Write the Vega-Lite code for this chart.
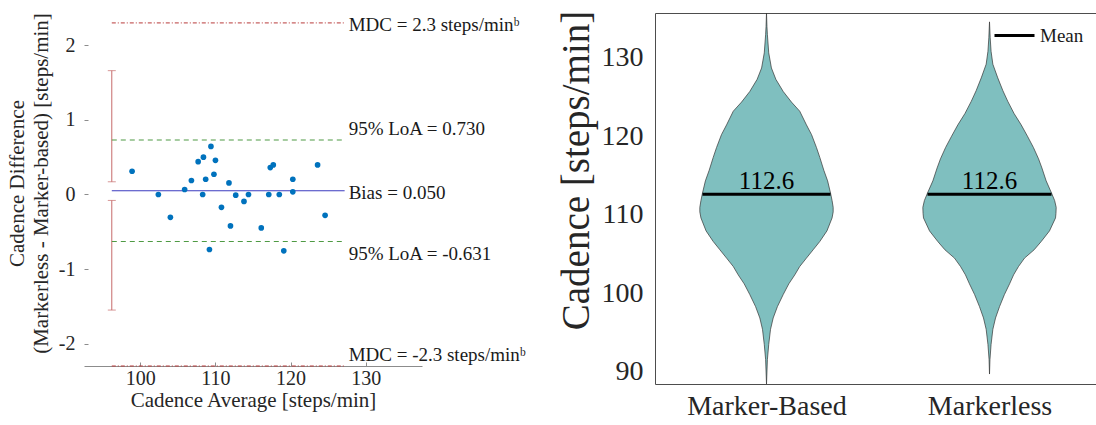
{
  "$schema": "https://vega.github.io/schema/vega-lite/v6.json",
  "padding": {"left": 6, "top": 9, "right": 0, "bottom": 0},
  "background": "white",
  "config": {
    "font": "Liberation Serif",
    "view": {"stroke": null},
    "axis": {"grid": false, "labelFont": "Liberation Serif", "titleFont": "Liberation Serif", "titleFontWeight": "normal", "labelColor": "#262626", "titleColor": "#262626"},
    "legend": {"labelFont": "Liberation Serif"},
    "text": {"font": "Liberation Serif"}
  },
  "spacing": 30,
  "resolve": {"legend": {"stroke": "independent"}},
  "datasets": {
    "points": [
      {"avg": 98.9, "diff": 0.311}, {"avg": 102.4, "diff": 0.0}, {"avg": 104.0, "diff": -0.307},
      {"avg": 105.9, "diff": 0.067}, {"avg": 106.8, "diff": 0.187}, {"avg": 107.7, "diff": 0.44},
      {"avg": 108.4, "diff": 0.5}, {"avg": 108.3, "diff": 0.0}, {"avg": 108.7, "diff": 0.204},
      {"avg": 109.4, "diff": 0.644}, {"avg": 110.0, "diff": 0.458}, {"avg": 109.8, "diff": 0.271},
      {"avg": 109.2, "diff": -0.738}, {"avg": 110.8, "diff": -0.173}, {"avg": 111.8, "diff": 0.155},
      {"avg": 112.0, "diff": -0.422}, {"avg": 112.7, "diff": -0.009}, {"avg": 113.8, "diff": -0.093},
      {"avg": 114.4, "diff": 0.0}, {"avg": 116.1, "diff": -0.449}, {"avg": 117.1, "diff": 0.0},
      {"avg": 117.3, "diff": 0.36}, {"avg": 117.7, "diff": 0.396}, {"avg": 118.5, "diff": 0.0},
      {"avg": 119.1, "diff": -0.756}, {"avg": 120.3, "diff": 0.035}, {"avg": 120.3, "diff": 0.204},
      {"avg": 123.6, "diff": 0.396}, {"avg": 124.6, "diff": -0.28}
    ],
    "hlines": [
      {"kind": "MDC", "y": 2.3, "x1": 96.2, "x2": 127.2, "label": "MDC = 2.3 steps/minᵇ"},
      {"kind": "MDC", "y": -2.3, "x1": 96.2, "x2": 127.2, "label": "MDC = -2.3 steps/minᵇ"},
      {"kind": "LoA", "y": 0.73, "x1": 96.2, "x2": 127.2, "label": "95% LoA = 0.730"},
      {"kind": "LoA", "y": -0.631, "x1": 96.2, "x2": 127.2, "label": "95% LoA = -0.631"},
      {"kind": "Bias", "y": 0.05, "x1": 96.2, "x2": 127.2, "label": "Bias = 0.050"}
    ],
    "ci": [
      {"x": 96.2, "lo": 0.17, "hi": 1.66},
      {"x": 96.2, "lo": -1.55, "hi": -0.08}
    ],
    "violin": [
      {"group": "Marker-Based", "cad": 135.69, "lo": 1.0, "hi": 1.0},
      {"group": "Marker-Based", "cad": 133.99, "lo": 0.998, "hi": 1.002},
      {"group": "Marker-Based", "cad": 132.93, "lo": 0.996, "hi": 1.004},
      {"group": "Marker-Based", "cad": 130.62, "lo": 0.99, "hi": 1.01},
      {"group": "Marker-Based", "cad": 128.69, "lo": 0.978, "hi": 1.022},
      {"group": "Marker-Based", "cad": 127.24, "lo": 0.958, "hi": 1.042},
      {"group": "Marker-Based", "cad": 125.69, "lo": 0.925, "hi": 1.075},
      {"group": "Marker-Based", "cad": 124.34, "lo": 0.888, "hi": 1.112},
      {"group": "Marker-Based", "cad": 123.18, "lo": 0.851, "hi": 1.149},
      {"group": "Marker-Based", "cad": 121.44, "lo": 0.821, "hi": 1.179},
      {"group": "Marker-Based", "cad": 120.19, "lo": 0.798, "hi": 1.202},
      {"group": "Marker-Based", "cad": 118.55, "lo": 0.776, "hi": 1.224},
      {"group": "Marker-Based", "cad": 117.29, "lo": 0.761, "hi": 1.239},
      {"group": "Marker-Based", "cad": 115.65, "lo": 0.743, "hi": 1.257},
      {"group": "Marker-Based", "cad": 114.3, "lo": 0.726, "hi": 1.274},
      {"group": "Marker-Based", "cad": 112.75, "lo": 0.713, "hi": 1.287},
      {"group": "Marker-Based", "cad": 111.79, "lo": 0.706, "hi": 1.294},
      {"group": "Marker-Based", "cad": 110.92, "lo": 0.701, "hi": 1.299},
      {"group": "Marker-Based", "cad": 110.34, "lo": 0.701, "hi": 1.299},
      {"group": "Marker-Based", "cad": 109.57, "lo": 0.706, "hi": 1.294},
      {"group": "Marker-Based", "cad": 107.92, "lo": 0.729, "hi": 1.271},
      {"group": "Marker-Based", "cad": 106.57, "lo": 0.761, "hi": 1.239},
      {"group": "Marker-Based", "cad": 105.51, "lo": 0.791, "hi": 1.209},
      {"group": "Marker-Based", "cad": 104.45, "lo": 0.821, "hi": 1.179},
      {"group": "Marker-Based", "cad": 103.38, "lo": 0.851, "hi": 1.149},
      {"group": "Marker-Based", "cad": 102.32, "lo": 0.873, "hi": 1.127},
      {"group": "Marker-Based", "cad": 101.17, "lo": 0.9, "hi": 1.1},
      {"group": "Marker-Based", "cad": 99.81, "lo": 0.925, "hi": 1.075},
      {"group": "Marker-Based", "cad": 98.27, "lo": 0.951, "hi": 1.049},
      {"group": "Marker-Based", "cad": 96.82, "lo": 0.97, "hi": 1.03},
      {"group": "Marker-Based", "cad": 95.37, "lo": 0.982, "hi": 1.018},
      {"group": "Marker-Based", "cad": 93.44, "lo": 0.99, "hi": 1.01},
      {"group": "Marker-Based", "cad": 91.51, "lo": 0.996, "hi": 1.004},
      {"group": "Marker-Based", "cad": 88.4, "lo": 1.0, "hi": 1.0},
      {"group": "Markerless", "cad": 134.57, "lo": 2.0, "hi": 2.0},
      {"group": "Markerless", "cad": 132.55, "lo": 1.997, "hi": 2.003},
      {"group": "Markerless", "cad": 130.81, "lo": 1.993, "hi": 2.007},
      {"group": "Markerless", "cad": 129.17, "lo": 1.985, "hi": 2.015},
      {"group": "Markerless", "cad": 127.43, "lo": 1.963, "hi": 2.037},
      {"group": "Markerless", "cad": 125.79, "lo": 1.94, "hi": 2.06},
      {"group": "Markerless", "cad": 124.43, "lo": 1.918, "hi": 2.082},
      {"group": "Markerless", "cad": 122.89, "lo": 1.89, "hi": 2.11},
      {"group": "Markerless", "cad": 121.44, "lo": 1.858, "hi": 2.142},
      {"group": "Markerless", "cad": 120.0, "lo": 1.83, "hi": 2.17},
      {"group": "Markerless", "cad": 118.55, "lo": 1.803, "hi": 2.197},
      {"group": "Markerless", "cad": 117.1, "lo": 1.78, "hi": 2.22},
      {"group": "Markerless", "cad": 115.94, "lo": 1.765, "hi": 2.235},
      {"group": "Markerless", "cad": 114.3, "lo": 1.746, "hi": 2.254},
      {"group": "Markerless", "cad": 112.75, "lo": 1.722, "hi": 2.278},
      {"group": "Markerless", "cad": 111.79, "lo": 1.708, "hi": 2.292},
      {"group": "Markerless", "cad": 110.92, "lo": 1.701, "hi": 2.299},
      {"group": "Markerless", "cad": 110.15, "lo": 1.702, "hi": 2.298},
      {"group": "Markerless", "cad": 109.57, "lo": 1.704, "hi": 2.296},
      {"group": "Markerless", "cad": 107.92, "lo": 1.731, "hi": 2.269},
      {"group": "Markerless", "cad": 106.57, "lo": 1.768, "hi": 2.232},
      {"group": "Markerless", "cad": 105.51, "lo": 1.8, "hi": 2.2},
      {"group": "Markerless", "cad": 104.45, "lo": 1.843, "hi": 2.157},
      {"group": "Markerless", "cad": 103.38, "lo": 1.87, "hi": 2.13},
      {"group": "Markerless", "cad": 102.32, "lo": 1.892, "hi": 2.108},
      {"group": "Markerless", "cad": 101.17, "lo": 1.91, "hi": 2.09},
      {"group": "Markerless", "cad": 99.81, "lo": 1.933, "hi": 2.067},
      {"group": "Markerless", "cad": 98.27, "lo": 1.955, "hi": 2.045},
      {"group": "Markerless", "cad": 96.82, "lo": 1.973, "hi": 2.027},
      {"group": "Markerless", "cad": 95.37, "lo": 1.985, "hi": 2.015},
      {"group": "Markerless", "cad": 93.44, "lo": 1.993, "hi": 2.007},
      {"group": "Markerless", "cad": 91.51, "lo": 1.998, "hi": 2.002},
      {"group": "Markerless", "cad": 89.67, "lo": 2.0, "hi": 2.0}
    ],
    "means": [
      {"group": "Marker-Based", "pos": 1, "mean": 112.6, "lo": 0.713, "hi": 1.287},
      {"group": "Markerless", "pos": 2, "mean": 112.6, "lo": 1.722, "hi": 2.278}
    ]
  },
  "hconcat": [
    {
      "width": 338,
      "height": 353,
      "layer": [
        {
          "data": {"name": "ci"},
          "mark": {"type": "rule", "color": "#c66b6b", "strokeWidth": 1},
          "encoding": {
            "x": {"field": "x", "type": "quantitative", "scale": {"domain": [92.5, 137.5], "nice": false, "zero": false},
              "axis": {"values": [100, 110, 120, 130], "title": "Cadence Average [steps/min]", "labelFont": "Liberation Serif", "titleFont": "Liberation Serif", "labelFontSize": 20, "titleFontSize": 21, "domainColor": "#8c8c8c", "tickColor": "#8c8c8c", "tickSize": -4, "labelPadding": 6, "titlePadding": 1}},
            "y": {"field": "lo", "type": "quantitative", "scale": {"domain": [-2.3, 2.433], "nice": false, "zero": false},
              "axis": {"values": [-2, -1, 0, 1, 2], "labelExpr": "datum.value + ''", "title": ["Cadence Difference", "(Markerless - Marker-based) [steps/min]"], "titleY": 170, "labelFont": "Liberation Serif", "titleFont": "Liberation Serif", "labelFontSize": 20, "titleFontSize": 21, "titleLineHeight": 24, "domain": false, "tickColor": "#8c8c8c", "tickSize": -4, "labelPadding": 13, "titlePadding": 7}},
            "y2": {"field": "hi"}
          }
        },
        {
          "mark": {"type": "rule", "color": "#8c8c8c", "strokeWidth": 1},
          "encoding": {"x": {"datum": 92.5, "type": "quantitative"}, "y": {"datum": -2.3, "type": "quantitative"}, "y2": {"datum": 2.28}}
        },
        {
          "data": {"name": "ci"},
          "mark": {"type": "tick", "color": "#c66b6b", "thickness": 1, "size": 8, "orient": "horizontal"},
          "encoding": {"x": {"field": "x", "type": "quantitative"}, "y": {"field": "lo", "type": "quantitative"}}
        },
        {
          "data": {"name": "ci"},
          "mark": {"type": "tick", "color": "#c66b6b", "thickness": 1, "size": 8, "orient": "horizontal"},
          "encoding": {"x": {"field": "x", "type": "quantitative"}, "y": {"field": "hi", "type": "quantitative"}}
        },
        {
          "data": {"name": "hlines"},
          "transform": [{"filter": "datum.kind == 'MDC'"}],
          "mark": {"type": "rule", "color": "#b83a3a", "strokeWidth": 1, "strokeDash": [4, 2, 1, 2]},
          "encoding": {"x": {"field": "x1", "type": "quantitative"}, "x2": {"field": "x2"}, "y": {"field": "y", "type": "quantitative"}}
        },
        {
          "data": {"name": "hlines"},
          "transform": [{"filter": "datum.kind == 'LoA'"}],
          "mark": {"type": "rule", "color": "#4f9a44", "strokeWidth": 1.2, "strokeDash": [5, 4]},
          "encoding": {"x": {"field": "x1", "type": "quantitative"}, "x2": {"field": "x2"}, "y": {"field": "y", "type": "quantitative"}}
        },
        {
          "data": {"name": "hlines"},
          "transform": [{"filter": "datum.kind == 'Bias'"}],
          "mark": {"type": "rule", "color": "#3b3bbf", "strokeWidth": 1.2},
          "encoding": {"x": {"field": "x1", "type": "quantitative"}, "x2": {"field": "x2"}, "y": {"field": "y", "type": "quantitative"}}
        },
        {
          "data": {"name": "points"},
          "mark": {"type": "circle", "color": "#0072BD", "opacity": 1, "size": 32},
          "encoding": {"x": {"field": "avg", "type": "quantitative"}, "y": {"field": "diff", "type": "quantitative"}}
        },
        {
          "data": {"name": "hlines"},
          "transform": [{"filter": "datum.y == 2.3 || datum.kind == 'Bias'"}],
          "mark": {"type": "text", "align": "left", "baseline": "middle", "dx": 4, "dy": 2, "fontSize": 19, "color": "#1a1a1a", "font": "Liberation Serif"},
          "encoding": {"x": {"field": "x2", "type": "quantitative"}, "y": {"field": "y", "type": "quantitative"}, "text": {"field": "label"}}
        },
        {
          "data": {"name": "hlines"},
          "transform": [{"filter": "datum.y == 0.73 || datum.y == -2.3"}],
          "mark": {"type": "text", "align": "left", "baseline": "alphabetic", "dx": 4, "dy": -5, "fontSize": 19, "color": "#1a1a1a", "font": "Liberation Serif"},
          "encoding": {"x": {"field": "x2", "type": "quantitative"}, "y": {"field": "y", "type": "quantitative"}, "text": {"field": "label"}}
        },
        {
          "data": {"name": "hlines"},
          "transform": [{"filter": "datum.y == -0.631"}],
          "mark": {"type": "text", "align": "left", "baseline": "top", "dx": 4, "dy": 3, "fontSize": 19, "color": "#1a1a1a", "font": "Liberation Serif"},
          "encoding": {"x": {"field": "x2", "type": "quantitative"}, "y": {"field": "y", "type": "quantitative"}, "text": {"field": "label"}}
        }
      ]
    },
    {
      "width": 442,
      "height": 371,
      "view": {"stroke": "#4d4d4d", "strokeWidth": 1},
      "layer": [
        {
          "data": {"name": "violin"},
          "mark": {"type": "area", "orient": "horizontal", "color": "#7fbfbf", "stroke": "#333333", "strokeWidth": 0.7, "opacity": 1, "clip": true},
          "encoding": {
            "y": {"field": "cad", "type": "quantitative", "scale": {"domain": [88.4, 135.7], "nice": false, "zero": false},
              "axis": {"values": [90, 100, 110, 120, 130], "title": "Cadence [steps/min]", "titleY": 157, "labelFont": "Liberation Serif", "titleFont": "Liberation Serif", "labelFontSize": 28, "titleFontSize": 39, "ticks": false, "domain": false, "labelPadding": 12, "titlePadding": 5}},
            "x": {"field": "lo", "type": "quantitative", "scale": {"domain": [0.5, 2.482], "nice": false, "zero": false},
              "axis": {"values": [1, 2], "labelExpr": "datum.value == 1 ? 'Marker-Based' : 'Markerless'", "title": null, "labelFont": "Liberation Serif", "labelFontSize": 28, "ticks": false, "domain": false, "labelPadding": 8}},
            "x2": {"field": "hi"},
            "detail": {"field": "group"}
          }
        },
        {
          "data": {"name": "means"},
          "mark": {"type": "rule", "strokeWidth": 3},
          "encoding": {
            "x": {"field": "lo", "type": "quantitative"},
            "x2": {"field": "hi"},
            "y": {"field": "mean", "type": "quantitative"},
            "stroke": {"datum": "Mean", "type": "nominal", "scale": {"range": ["#000000"]},
              "legend": {"title": null, "orient": "none", "legendX": 338, "legendY": 1, "symbolType": "stroke", "symbolSize": 1600, "symbolStrokeWidth": 3, "labelFontSize": 19, "labelFont": "Liberation Serif", "labelColor": "#1a1a1a", "labelOffset": 4, "padding": 0}}
          }
        },
        {
          "data": {"name": "means"},
          "mark": {"type": "text", "baseline": "alphabetic", "dy": -5, "fontSize": 25, "color": "#000000", "font": "Liberation Serif"},
          "encoding": {
            "x": {"field": "pos", "type": "quantitative"},
            "y": {"field": "mean", "type": "quantitative"},
            "text": {"field": "mean", "type": "quantitative", "format": ".1f"}
          }
        }
      ]
    }
  ]
}
